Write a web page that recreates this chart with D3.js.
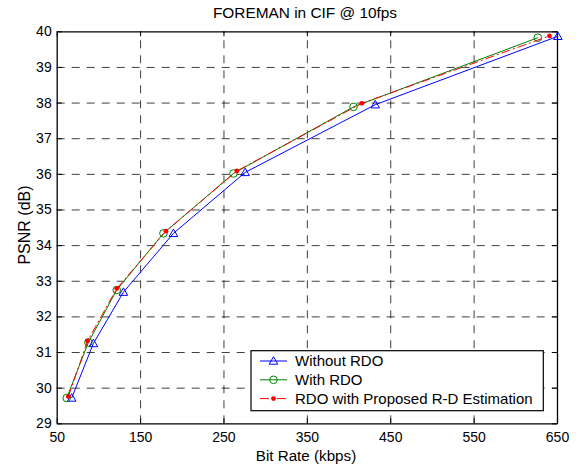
<!DOCTYPE html>
<html>
<head>
<meta charset="utf-8">
<script src="https://cdn.jsdelivr.net/npm/d3@7"></script>
<style>
  html, body { margin: 0; padding: 0; background: #fff; }
  svg { display: block; font-family: "Liberation Sans", Arial, Helvetica, sans-serif; }
</style>
</head>
<body>
<svg id="chart" width="576" height="470"></svg>
<script>
// Rate-distortion curves for FOREMAN (CIF, 10 fps)
const xTicks = [50, 150, 250, 350, 450, 550, 650];
const yTicks = [29, 30, 31, 32, 33, 34, 35, 36, 37, 38, 39, 40];

const withoutRdoRate = [68, 94, 130, 190, 276, 432, 651];
const withoutRdoPsnr = [29.71, 31.24, 32.68, 34.33, 36.04, 37.94, 39.86];

const withRdoRate = [62, 88, 122, 178, 262, 406, 627];
const withRdoPsnr = [29.71, 31.27, 32.74, 34.33, 36.01, 37.88, 39.82];

const proposedRate = [64, 87, 122, 181, 266, 416, 641];
const proposedPsnr = [29.75, 31.31, 32.78, 34.39, 36.08, 37.98, 39.87];

const seriesNames = ["Without RDO", "With RDO", "RDO with Proposed R-D Estimation"];

const svg = d3.select("#chart");
const L = 56.7, R = 557, T = 31.3, B = 423.3;

const x = d3.scaleLinear().domain([50, 650]).range([L, R]);
const y = d3.scaleLinear().domain([29, 40]).range([B, T]);

// dashed grid
const gridStyle = g => {
  g.select(".domain").remove();
  g.selectAll("text").remove();
  g.selectAll("line")
    .attr("stroke", "#000")
    .attr("stroke-width", 0.9)
    .attr("stroke-dasharray", "8,7")
    .attr("stroke-opacity", 0.85);
};
svg.append("g")
  .attr("transform", `translate(0,${B})`)
  .call(d3.axisBottom(x).tickValues(xTicks.slice(1, -1)).tickSize(-(B - T)))
  .call(gridStyle);
svg.append("g")
  .attr("transform", `translate(${L},0)`)
  .call(d3.axisLeft(y).tickValues(yTicks.slice(1, -1)).tickSize(-(R - L)))
  .call(gridStyle);

// axes with inward ticks on all four sides
const axisStyle = g => {
  g.select(".domain").attr("stroke", "#000").attr("stroke-width", 1.3);
  g.selectAll("line").attr("stroke", "#000").attr("stroke-width", 1);
  g.selectAll("text").attr("fill", "#000").style("font-size", "14px")
    .attr("font-family", '"Liberation Sans", Arial, sans-serif');
};
svg.append("g")
  .attr("transform", `translate(0,${B})`)
  .call(d3.axisBottom(x).tickValues(xTicks).tickSizeInner(-5).tickSizeOuter(0).tickPadding(8.5))
  .call(axisStyle);
svg.append("g")
  .attr("transform", `translate(0,${T})`)
  .call(d3.axisTop(x).tickValues(xTicks).tickSizeInner(-5).tickSizeOuter(0).tickFormat(""))
  .call(axisStyle);
svg.append("g")
  .attr("transform", `translate(${L},0)`)
  .call(d3.axisLeft(y).tickValues(yTicks).tickSizeInner(-5).tickSizeOuter(0).tickPadding(5))
  .call(axisStyle);
svg.append("g")
  .attr("transform", `translate(${R},0)`)
  .call(d3.axisRight(y).tickValues(yTicks).tickSizeInner(-5).tickSizeOuter(0).tickFormat(""))
  .call(axisStyle);

// titles
svg.append("text").attr("x", 305).attr("y", 18.3).attr("text-anchor", "middle")
  .style("font-size", "15.4px").text("FOREMAN in CIF @ 10fps");
svg.append("text").attr("x", 306).attr("y", 460.7).attr("text-anchor", "middle")
  .style("font-size", "15.2px").text("Bit Rate (kbps)");
svg.append("text").attr("transform", "translate(30,225) rotate(-90)").attr("text-anchor", "middle")
  .style("font-size", "16px").text("PSNR (dB)");

// series
const series = [
  { name: seriesNames[0], rate: withoutRdoRate, psnr: withoutRdoPsnr, color: "#0000ff", dash: null, marker: "triangle" },
  { name: seriesNames[1], rate: withRdoRate, psnr: withRdoPsnr, color: "#008000", dash: null, marker: "circle" },
  { name: seriesNames[2], rate: proposedRate, psnr: proposedPsnr, color: "#ff0000", dash: "9,3,2,3", marker: "dot" }
];

const line = d3.line().x(d => x(d[0])).y(d => y(d[1]));

function drawMarker(g, type, cx, cy, color) {
  if (type === "triangle") {
    g.append("path")
      .attr("d", `M${cx},${cy - 4.3}L${cx + 4.3},${cy + 3.2}L${cx - 4.3},${cy + 3.2}Z`)
      .attr("fill", "none").attr("stroke", color).attr("stroke-width", 1);
  } else if (type === "circle") {
    g.append("circle").attr("cx", cx).attr("cy", cy).attr("r", 3.8)
      .attr("fill", "none").attr("stroke", color).attr("stroke-width", 1);
  } else {
    g.append("circle").attr("cx", cx).attr("cy", cy).attr("r", 2.4)
      .attr("fill", color).attr("stroke", "none");
  }
}

series.forEach(s => {
  const pts = s.rate.map((r, i) => [r, s.psnr[i]]);
  const g = svg.append("g");
  g.append("path").datum(pts).attr("d", line)
    .attr("fill", "none").attr("stroke", s.color).attr("stroke-width", 1)
    .attr("stroke-dasharray", s.dash);
  pts.forEach(p => drawMarker(g, s.marker, x(p[0]), y(p[1]), s.color));
});

// legend
const lg = svg.append("g");
lg.append("rect").attr("x", 251).attr("y", 350.7).attr("width", 292.3).attr("height", 60)
  .attr("fill", "#fff").attr("stroke", "#000").attr("stroke-width", 1.2);
series.forEach((s, i) => {
  const ly = 361 + i * 18.8;
  lg.append("line").attr("x1", 260).attr("x2", 287).attr("y1", ly).attr("y2", ly)
    .attr("stroke", s.color).attr("stroke-width", 1).attr("stroke-dasharray", s.dash);
  drawMarker(lg, s.marker, 273.5, ly, s.color);
  lg.append("text").attr("x", 295).attr("y", ly).attr("dy", "0.36em")
    .style("font-size", "15px").text(s.name);
});
</script>
</body>
</html>
